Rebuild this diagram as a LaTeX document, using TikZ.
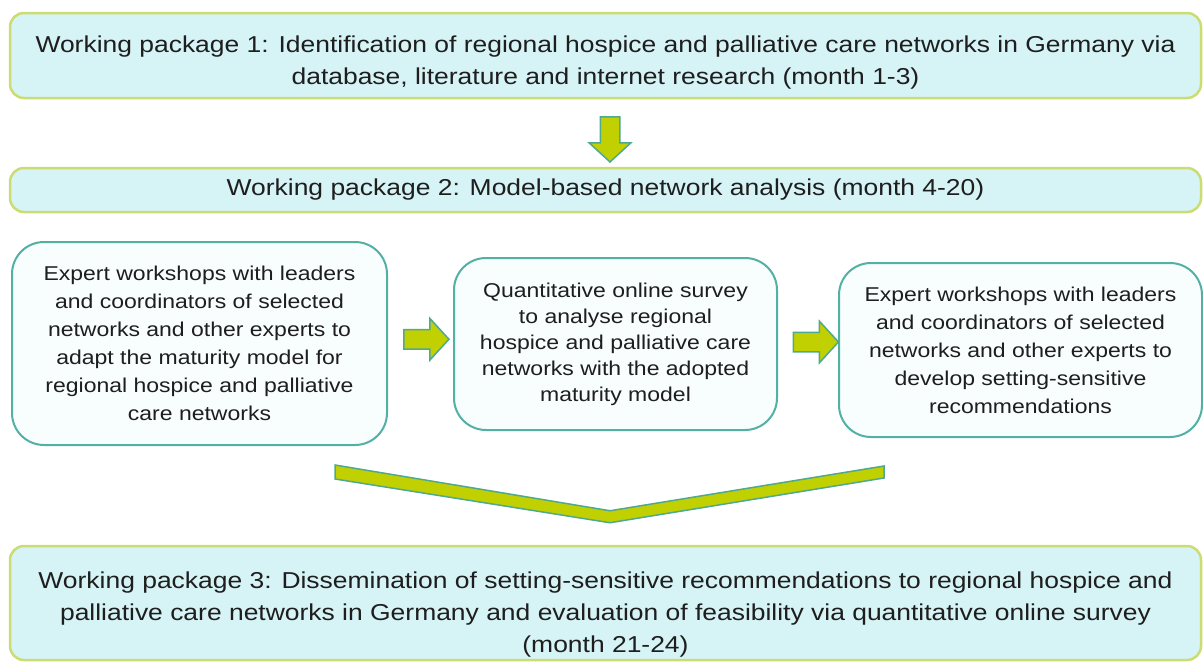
\documentclass[tikz,border=0pt]{standalone}
\usepackage{fontspec}
\setmainfont[FakeStretch=1.15]{Liberation Sans}
\usetikzlibrary{shapes.arrows}
\usetikzlibrary{calc}

\definecolor{wpfill}{HTML}{D6F3F6}
\definecolor{wpline}{HTML}{CBDC72}
\definecolor{taskline}{HTML}{52B0A4}
\definecolor{taskfill}{HTML}{F8FDFD}
\definecolor{arrowfill}{HTML}{C0D000}
\definecolor{arrowline}{HTML}{4FA98E}
\definecolor{txt}{HTML}{1E1E1E}

\tikzset{
  wpbox/.style={draw=wpline, fill=wpfill, line width=2.5pt, rounded corners=14pt,
    minimum width=1191pt, inner sep=0pt},
  wptext/.style={align=center, text=txt, inner sep=0pt,
    font=\fontsize{23}{32}\selectfont},
  taskbox/.style={draw=taskline, fill=taskfill, line width=2pt, rounded corners=32pt,
    inner sep=0pt, align=center, text=txt, font=\fontsize{20}{28}\selectfont},
  blockarrow/.style={single arrow, draw=arrowline, fill=arrowfill, line width=1.5pt,
    minimum height=45pt, minimum width=40pt, inner xsep=0pt, inner ysep=9pt,
    single arrow head extend=11pt, single arrow tip angle=95}
}

\begin{document}
\begin{tikzpicture}[x=1pt,y=-1pt]
  \useasboundingbox (0,0) rectangle (1203,664);

  \node[wpbox, minimum height=85pt] (wp1) at (605.5,55.5) {};
  \node[wptext] (wp1t) at ([yshift=-7pt]wp1.center)
    {Working package 1: Identification of regional hospice and palliative care networks in Germany via\\
     database, literature and internet research (month 1-3)};
  \node[wpbox, minimum height=44pt] (wp2) at (605.5,190) {};
  \node[wptext] (wp2t) at (wp2.center)
    {Working package 2: Model-based network analysis (month 4-20)};

  \node[taskbox, minimum width=375pt, minimum height=203pt] (expA) at (199.5,343.5)
    {Expert workshops with leaders\\ and coordinators of selected\\ networks and other experts to\\
     adapt the maturity model for\\ regional hospice and palliative\\ care networks};
  \node[taskbox, minimum width=323pt, minimum height=172pt, font=\fontsize{20}{26}\selectfont]
    (survey) at (615.5,344)
    {Quantitative online survey\\ to analyse regional\\ hospice and palliative care\\
     networks with the adopted\\ maturity model};
  \node[taskbox, minimum width=363pt, minimum height=174pt] (expB) at (1020.5,350)
    {Expert workshops with leaders\\ and coordinators of selected\\ networks and other experts to\\
     develop setting-sensitive\\ recommendations};

  \node[wpbox, minimum height=114pt] (wp3) at (605.5,603) {};
  \node[wptext] (wp3t) at ([yshift=-12pt]wp3.center)
    {Working package 3: Dissemination of setting-sensitive recommendations to regional hospice and\\
     palliative care networks in Germany and evaluation of feasibility via quantitative online survey\\
     (month 21-24)};

  % block arrows between the steps
  \node[blockarrow, rotate=-90] (a1) at ($(wp1.south)!0.5!(wp2.north)+(4.5,2)$) {};
  \node[blockarrow] (a2) at ($(expA.east)!0.5!(survey.west)+(1.5,-4.5)$) {};
  \node[blockarrow] (a3) at ($(survey.east)!0.5!(expB.west)+(3.5,-5)$) {};

  % wide chevron down to package 3
  \coordinate (tip) at ($(wp3.north)+(4.5,-34)$);
  \draw[draw=arrowline, fill=arrowfill, line width=1.5pt, line join=miter]
    (335,465) -- (tip) -- (884,466) -- (884,478) -- ($(tip)+(0,12)$) -- (335,479) -- cycle;
\end{tikzpicture}
\end{document}
